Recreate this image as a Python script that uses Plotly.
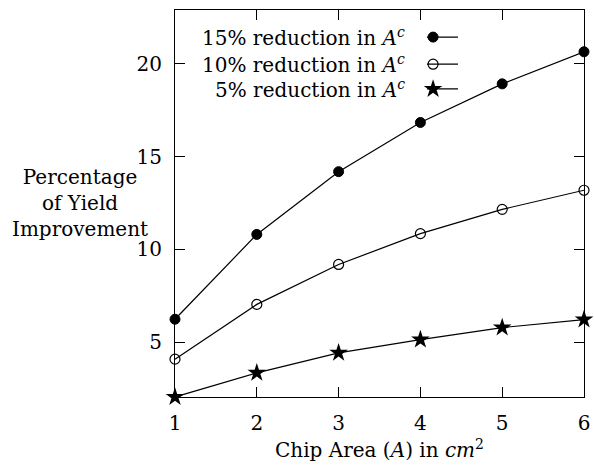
import plotly.graph_objects as go

chip_area = [1, 2, 3, 4, 5, 6]
red15 = [6.24, 10.81, 14.19, 16.84, 18.92, 20.65]
red10 = [4.09, 7.04, 9.19, 10.85, 12.16, 13.19]
red5 = [2.05, 3.35, 4.43, 5.14, 5.79, 6.22]
series_names = ["15% reduction in <i>A</i><sup><i>c</i></sup>",
                "10% reduction in <i>A</i><sup><i>c</i></sup>",
                "5% reduction in <i>A</i><sup><i>c</i></sup>"]
x_ticks = [1, 2, 3, 4, 5, 6]
y_ticks = [5, 10, 15, 20]

FONT = "DejaVu Serif"
styles = [
    dict(symbol="circle", size=10, color="black", line=dict(color="black", width=1)),
    dict(symbol="circle-open", size=10, color="black", line=dict(color="black", width=1.2)),
    dict(symbol="star", size=14, color="black", line=dict(color="black", width=0)),
]

fig = go.Figure()
for vals, st, name in zip([red15, red10, red5], styles, series_names):
    fig.add_trace(go.Scatter(x=chip_area, y=vals, mode="lines+markers", name=name,
                             line=dict(color="black", width=1.2), marker=st,
                             cliponaxis=False, showlegend=False))

# custom legend (text on left, sample on right)
leg_y = [0.930, 0.860, 0.796]
for yy, st, name in zip(leg_y, styles, series_names):
    fig.add_trace(go.Scatter(x=[0.616, 0.692], y=[yy, yy], xaxis="x2", yaxis="y2",
                             mode="lines", line=dict(color="black", width=1.2),
                             showlegend=False, hoverinfo="skip"))
    fig.add_trace(go.Scatter(x=[0.631], y=[yy], xaxis="x2", yaxis="y2",
                             mode="markers", marker=st, showlegend=False, hoverinfo="skip"))
    fig.add_annotation(x=0.567, y=yy, xref="paper", yref="paper", text=name,
                       showarrow=False, xanchor="right", yanchor="middle",
                       font=dict(family=FONT, size=20, color="black"))

axis_common = dict(showline=True, linecolor="black", linewidth=1.2, mirror="ticks",
                   ticks="inside", ticklen=10, tickcolor="black", tickwidth=1.2,
                   showgrid=False, zeroline=False, automargin=False,
                   tickfont=dict(family=FONT, size=20, color="black"))
fig.update_layout(
    width=594, height=466, autosize=False,
    margin=dict(l=175, r=10, t=10, b=69),
    paper_bgcolor="white", plot_bgcolor="white",
    xaxis=dict(range=[1, 6], tickvals=x_ticks, ticklabelstandoff=8, **axis_common),
    yaxis=dict(range=[2.05, 22.9], tickvals=y_ticks, ticklabelstandoff=8, **axis_common),
    xaxis2=dict(range=[0, 1], overlaying="x", visible=False, automargin=False),
    yaxis2=dict(range=[0, 1], overlaying="y", visible=False, automargin=False),
    showlegend=False,
)
fig.add_annotation(x=0.5, y=-0.134, xref="paper", yref="paper",
                   text="Chip Area (<i>A</i>) in <i>cm</i><sup>2</sup>", showarrow=False,
                   xanchor="center", yanchor="middle",
                   font=dict(family=FONT, size=20, color="black"))
fig.add_annotation(x=-0.232, y=0.501, xref="paper", yref="paper",
                   text="Percentage<br>of Yield<br>Improvement", showarrow=False,
                   xanchor="center", yanchor="middle", align="center",
                   font=dict(family=FONT, size=20, color="black"))

fig.write_html("out.html",
               config={"responsive": False, "displayModeBar": False},
               post_script="document.body.style.margin='0';document.body.style.overflow='hidden';")
